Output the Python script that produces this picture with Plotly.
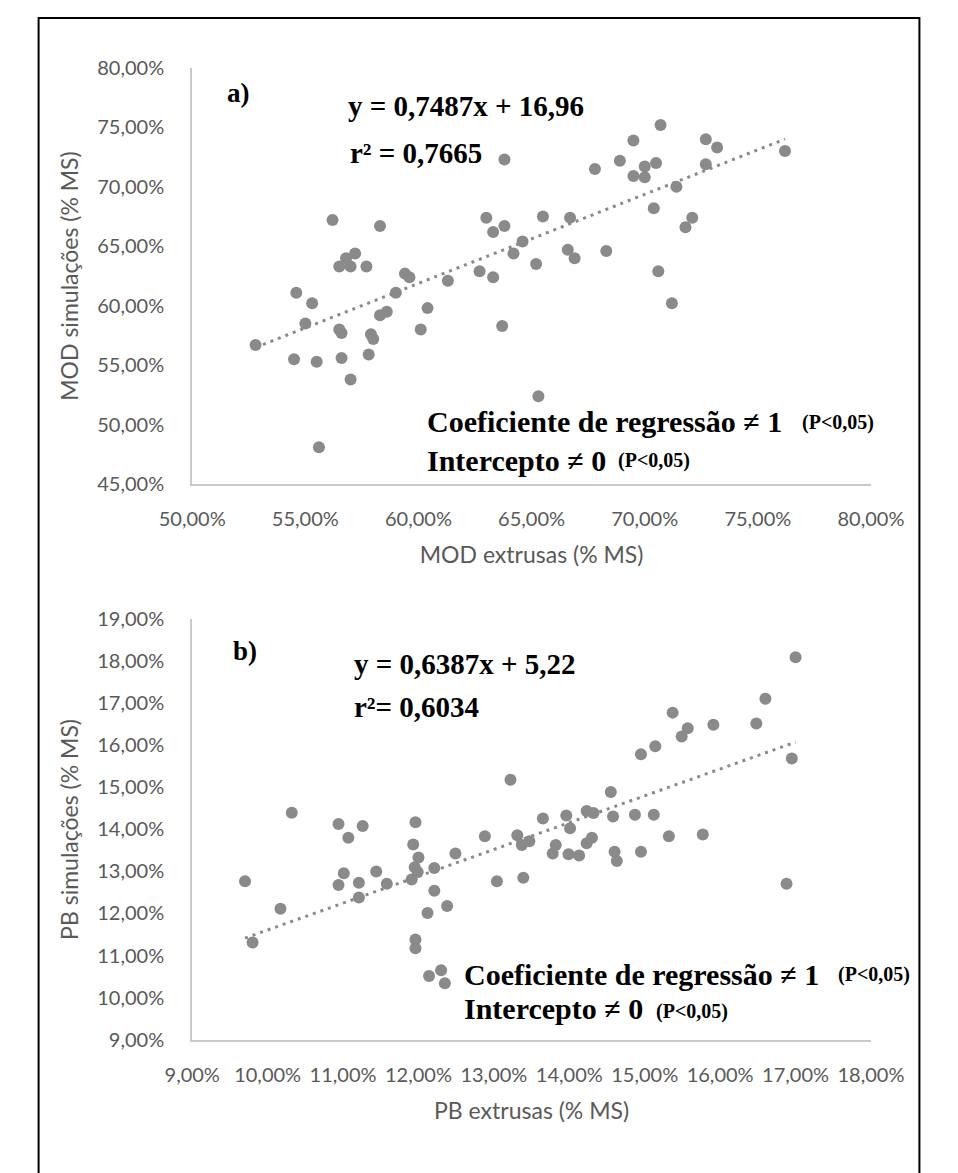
import plotly.graph_objects as go

# Panel a) digestibility of organic matter (% DM)
mod_extrusas = [52.8, 54.5, 54.6, 55.0, 55.3, 55.5, 55.6, 56.2, 56.5, 56.5, 56.6, 56.6,
                56.8, 57.0, 57.0, 57.2, 57.7, 57.8, 57.9, 58.0, 58.3, 58.3, 58.6, 59.0,
                59.4, 59.6, 60.1, 60.4, 61.3, 62.7, 63.0, 63.3, 63.3, 63.7, 63.8, 63.8,
                64.2, 64.6, 65.2, 65.3, 65.5, 66.6, 66.7, 66.9, 67.8, 68.3, 68.9, 69.5,
                69.5, 70.0, 70.0, 70.4, 70.5, 70.6, 70.7, 71.2, 71.4, 71.8, 72.1, 72.7,
                72.7, 73.2, 76.2]
mod_simulacoes = [56.7, 55.5, 61.1, 58.5, 60.2, 55.3, 48.1, 67.2, 63.3, 58.0, 57.7, 55.6,
                  64.0, 63.3, 53.8, 64.4, 63.3, 55.9, 57.6, 57.2, 66.7, 59.2, 59.5, 61.1,
                  62.7, 62.4, 58.0, 59.8, 62.1, 62.9, 67.4, 66.2, 62.4, 58.3, 72.3, 66.7,
                  64.4, 65.4, 63.5, 52.4, 67.5, 64.7, 67.4, 64.0, 71.5, 64.6, 72.2, 73.9,
                  70.9, 71.7, 70.8, 68.2, 72.0, 62.9, 75.2, 60.2, 70.0, 66.6, 67.4, 74.0,
                  71.9, 73.3, 73.0]
mod_slope, mod_intercept = 0.7487, 16.96
mod_eq_text = "y = 0,7487x + 16,96"
mod_r2_text = "r² = 0,7665"

# Panel b) crude protein (% DM)
pb_extrusas = [9.70, 9.80, 10.17, 10.32, 10.94, 11.26, 11.07, 11.01, 10.94, 11.21, 11.21,
               11.44, 11.58, 11.96, 11.93, 12.00, 11.95, 11.99, 11.91, 12.21, 12.21, 12.12,
               12.38, 11.96, 11.96, 12.14, 12.30, 12.35, 12.49, 12.88, 13.22, 13.04, 13.31,
               13.37, 13.47, 13.39, 13.65, 13.82, 13.78, 13.96, 14.01, 13.99, 14.13, 14.23,
               14.32, 14.30, 14.23, 14.55, 14.58, 14.60, 14.63, 14.87, 14.95, 14.95, 15.12,
               15.14, 15.32, 15.37, 15.49, 15.57, 15.77, 15.91, 16.48, 16.60, 16.88, 16.95,
               17.00]
pb_simulacoes = [12.77, 11.31, 12.11, 14.40, 14.13, 14.08, 13.80, 12.96, 12.68, 12.73, 12.38,
                 13.00, 12.71, 14.17, 13.64, 13.33, 13.10, 12.99, 12.81, 13.08, 12.54, 12.01,
                 12.18, 11.38, 11.17, 10.51, 10.65, 10.34, 13.43, 13.84, 15.18, 12.77, 13.86,
                 13.63, 13.72, 12.85, 14.26, 13.63, 13.43, 14.33, 14.03, 13.41, 13.38, 14.44,
                 14.39, 13.80, 13.67, 14.89, 14.31, 13.47, 13.25, 14.35, 15.79, 13.47, 14.35,
                 15.98, 13.84, 16.78, 16.21, 16.41, 13.88, 16.49, 16.52, 17.11, 12.71, 15.69,
                 18.10]
pb_slope, pb_intercept = 0.6387, 5.22
pb_eq_text = "y = 0,6387x + 5,22"
pb_r2_text = "r²= 0,6034"

# Axis ticks
mod_x_ticks = [50, 55, 60, 65, 70, 75, 80]
mod_y_ticks = [45, 50, 55, 60, 65, 70, 75, 80]
pb_x_ticks = [9, 10, 11, 12, 13, 14, 15, 16, 17, 18]
pb_y_ticks = [9, 10, 11, 12, 13, 14, 15, 16, 17, 18, 19]


def pct_labels(values):
    return [f"{v:.2f}".replace(".", ",") + "%" for v in values]


W, H = 958, 1173
MARKER = "#8a8a8a"
AXIS_GREY = "#c9c9c9"
TEXT_GREY = "#595959"
SANS = "Lato, Open Sans, sans-serif"
SERIF = "Liberation Serif, Times New Roman, serif"


def px(x):
    return x / W


def py(y):
    return 1 - y / H


fig = go.Figure()

panels = [
    (mod_extrusas, mod_simulacoes, mod_slope, mod_intercept, "x", "y"),
    (pb_extrusas, pb_simulacoes, pb_slope, pb_intercept, "x2", "y2"),
]
for xs, ys, slope, intercept, xa, ya in panels:
    fig.add_trace(go.Scatter(
        x=xs, y=ys, mode="markers", xaxis=xa, yaxis=ya,
        marker=dict(color=MARKER, size=12, line=dict(width=0)),
        showlegend=False, hoverinfo="x+y",
    ))
    x_line = [min(xs), max(xs)]
    fig.add_trace(go.Scatter(
        x=x_line, y=[slope * v + intercept for v in x_line], mode="lines",
        xaxis=xa, yaxis=ya,
        line=dict(color=MARKER, width=3, dash="3px,5px"),
        showlegend=False, hoverinfo="skip",
    ))

x_dom = [px(171), px(900)]
axis_common = dict(
    showgrid=False, zeroline=False, showline=True, linecolor=AXIS_GREY, linewidth=2,
    ticks="", tickangle=0, tickfont=dict(family=SANS, size=20, color=TEXT_GREY),
    title_font=dict(family=SANS, size=23, color=TEXT_GREY),
)

fig.update_layout(
    width=W, height=H, margin=dict(l=0, r=0, t=0, b=0),
    paper_bgcolor="white", plot_bgcolor="white",
    xaxis=dict(domain=x_dom, range=[50, 80], anchor="y",
               tickvals=mod_x_ticks, ticktext=pct_labels(mod_x_ticks),
               ticklabelstandoff=16,
               title=dict(text="MOD extrusas (% MS)", standoff=18), **axis_common),
    yaxis=dict(domain=[py(481), py(56)], range=[45, 80], anchor="x",
               tickvals=mod_y_ticks, ticktext=pct_labels(mod_y_ticks),
               ticklabelstandoff=22,
               title=dict(text="MOD simulações (% MS)", standoff=12), **axis_common),
    xaxis2=dict(domain=x_dom, range=[9, 18], anchor="y2",
                tickvals=pb_x_ticks, ticktext=pct_labels(pb_x_ticks),
                ticklabelstandoff=16,
                title=dict(text="PB extrusas (% MS)", standoff=18), **axis_common),
    yaxis2=dict(domain=[py(1048), py(619)], range=[9, 19], anchor="x2",
                tickvals=pb_y_ticks, ticktext=pct_labels(pb_y_ticks),
                ticklabelstandoff=22,
                title=dict(text="PB simulações (% MS)", standoff=12), **axis_common),
)

# Outer frame
fig.add_shape(type="rect", xref="paper", yref="paper",
              x0=px(6), x1=px(952), y0=py(1190), y1=py(5),
              line=dict(color="black", width=2), fillcolor="rgba(0,0,0,0)")


def label(x, y, text, size=29):
    fig.add_annotation(xref="paper", yref="paper", x=px(x), y=py(y),
                       xanchor="left", yanchor="middle", showarrow=False,
                       text=text,
                       font=dict(family=SERIF, size=size, color="black", weight="bold"))


# Panel a) annotations
label(206, 82, "a)", 27)
label(336, 95, mod_eq_text)
label(338, 143, mod_r2_text)
label(421, 417, "Coeficiente de regressão ≠ 1", 30)
label(824, 418, "(P&lt;0,05)", 20)
label(421, 457, "Intercepto ≠ 0", 30)
label(626, 457, "(P&lt;0,05)", 20)

# Panel b) annotations
label(213, 651, "b)", 27)
label(343, 665, pb_eq_text)
label(343, 708, pb_r2_text)
label(461, 982, "Coeficiente de regressão ≠ 1", 30)
label(862, 982, "(P&lt;0,05)", 20)
label(461, 1016, "Intercepto ≠ 0", 30)
label(667, 1019, "(P&lt;0,05)", 20)

fig.write_html("out.html")
